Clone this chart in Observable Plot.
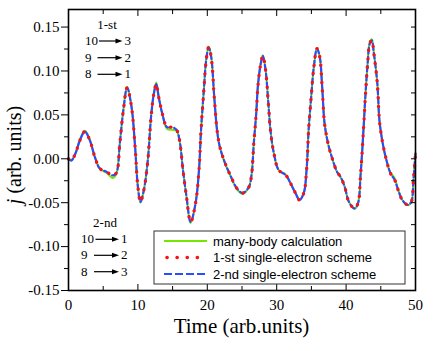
<!DOCTYPE html>
<html>
<head>
<meta charset="utf-8">
<script src="https://cdn.jsdelivr.net/npm/d3@7"></script>
<script src="https://cdn.jsdelivr.net/npm/@observablehq/plot@0.6"></script>
<style>
  html, body { margin: 0; padding: 0; background: #fff; }
  #chart { width: 436px; height: 351px; }
</style>
</head>
<body>
<div id="chart"></div>
<script>
// ---- data ----
const time = [0, 0.4, 1.0, 1.6, 2.35, 3.07, 3.8, 4.5, 5.5, 6.4, 6.9, 7.4, 7.9, 8.45, 9.08, 9.56, 10.0, 10.37, 10.85, 11.43,
  11.9, 12.3, 12.64, 13.0, 13.5, 14.2, 14.9, 15.56, 16.0, 16.5, 17.0, 17.6, 18.3, 18.8, 19.1, 19.5, 19.84, 20.2, 20.56, 21.0,
  21.4, 21.75, 22.4, 23.3, 24.3, 25.1, 26.0, 26.4, 26.7, 27.05, 27.3, 27.7, 28.0, 28.4, 28.8, 29.1, 29.6, 30.3, 31.3, 32.0,
  32.7, 33.3, 33.9, 34.3, 34.6, 34.97, 35.35, 35.8, 36.2, 36.55, 36.9, 37.4, 38.0, 38.7, 39.2, 39.8, 40.4, 41.2, 41.7, 42.1,
  42.5, 42.8, 43.1, 43.4, 43.7, 44.0, 44.5, 44.8, 45.2, 45.7, 46.4, 47.0, 47.5, 48.1, 48.9, 49.4, 49.7, 50.0];
const manyBody = [0, -0.002, 0.006, 0.021, 0.032, 0.022, 0.002, -0.011, -0.016, -0.022, -0.017, 0.018, 0.056, 0.082, 0.060, 0.018, -0.032, -0.050, -0.036, -0.001,
  0.049, 0.075, 0.087, 0.071, 0.051, 0.034, 0.033, 0.032, 0.021, -0.013, -0.043, -0.073, -0.051, -0.013, 0.033, 0.078, 0.113, 0.128, 0.117, 0.071,
  0.033, 0.015, -0.002, -0.019, -0.035, -0.040, -0.032, -0.016, 0.018, 0.052, 0.084, 0.109, 0.118, 0.101, 0.063, 0.033, 0.006, -0.013, -0.018, -0.028,
  -0.039, -0.046, -0.039, -0.013, 0.033, 0.071, 0.105, 0.126, 0.117, 0.082, 0.040, 0.017, 0.000, -0.015, -0.021, -0.032, -0.049, -0.057, -0.051, -0.017,
  0.033, 0.075, 0.109, 0.132, 0.136, 0.121, 0.086, 0.044, 0.021, 0.002, -0.016, -0.022, -0.035, -0.047, -0.053, -0.049, -0.024, 0.006];
const scheme1 = [0, -0.002, 0.006, 0.020, 0.031, 0.021, 0.002, -0.011, -0.015, -0.019, -0.016, 0.018, 0.055, 0.081, 0.059, 0.0175, -0.032, -0.049, -0.036, -0.0015,
  0.048, 0.074, 0.085, 0.070, 0.052, 0.036, 0.036, 0.033, 0.021, -0.013, -0.043, -0.072, -0.051, -0.013, 0.033, 0.078, 0.112, 0.127, 0.116, 0.0705,
  0.033, 0.0155, -0.0015, -0.0185, -0.034, -0.039, -0.032, -0.0166, 0.0175, 0.0516, 0.0837, 0.108, 0.117, 0.1008, 0.063, 0.0326, 0.006, -0.013, -0.0185, -0.028,
  -0.039, -0.047, -0.039, -0.013, 0.0326, 0.0705, 0.1045, 0.1255, 0.116, 0.082, 0.040, 0.0175, 0.0005, -0.015, -0.0205, -0.032, -0.049, -0.0565, -0.051, -0.0166,
  0.0326, 0.0743, 0.108, 0.131, 0.135, 0.120, 0.0857, 0.044, 0.021, 0.002, -0.0166, -0.024, -0.0356, -0.047, -0.0526, -0.049, -0.024, 0.006];
const scheme2 = [0, -0.002, 0.006, 0.020, 0.031, 0.021, 0.002, -0.011, -0.015, -0.019, -0.016, 0.018, 0.055, 0.081, 0.059, 0.0175, -0.032, -0.049, -0.036, -0.0015,
  0.048, 0.074, 0.085, 0.070, 0.052, 0.036, 0.036, 0.033, 0.021, -0.013, -0.043, -0.072, -0.051, -0.013, 0.033, 0.078, 0.112, 0.127, 0.116, 0.0705,
  0.033, 0.0155, -0.0015, -0.0185, -0.034, -0.039, -0.032, -0.0166, 0.0175, 0.0516, 0.0837, 0.108, 0.117, 0.1008, 0.063, 0.0326, 0.006, -0.013, -0.0185, -0.028,
  -0.039, -0.047, -0.039, -0.013, 0.0326, 0.0705, 0.1045, 0.1255, 0.116, 0.082, 0.040, 0.0175, 0.0005, -0.015, -0.0205, -0.032, -0.049, -0.0565, -0.051, -0.0166,
  0.0326, 0.0743, 0.108, 0.131, 0.135, 0.120, 0.0857, 0.044, 0.021, 0.002, -0.0166, -0.024, -0.0356, -0.047, -0.0526, -0.049, -0.024, 0.006];

const seriesNames = ["many-body calculation", "1-st single-electron scheme", "2-nd single-electron scheme"];
const xMajor = [0, 10, 20, 30, 40, 50];
const xMinor = [5, 15, 25, 35, 45];
const yMajor = [-0.15, -0.10, -0.05, 0.00, 0.05, 0.10, 0.15];
const yMinor = [-0.125, -0.075, -0.025, 0.025, 0.075, 0.125];
const firstLabel = "1-st";
const secondLabel = "2-nd";
const firstMap = [["10", "3"], ["9", "2"], ["8", "1"]];
const secondMap = [["10", "1"], ["9", "2"], ["8", "3"]];

// ---- styles ----
const GREEN = "#74e600", RED = "#ff1010", BLUE = "#2a4dff";
const serif = "'Liberation Serif', 'DejaVu Serif', serif";
const sans = "'Liberation Sans', Arial, sans-serif";

const mk = (arr) => time.map((t, i) => ({t, j: arr[i]}));
const dMany = mk(manyBody), d1 = mk(scheme1), d2 = mk(scheme2);
const fmt = (d) => d3.format(".2f")(d).replace("\u2212", "-");

const plot = Plot.plot({
  width: 436,
  height: 351,
  marginLeft: 68,
  marginRight: 21,
  marginTop: 9,
  marginBottom: 61,
  style: {fontFamily: serif, fontSize: "15px", background: "#fff", color: "#000"},
  x: {domain: [0, 50]},
  y: {domain: [-0.15, 0.17]},
  marks: [
    Plot.line(dMany, {x: "t", y: "j", stroke: GREEN, strokeWidth: 2, curve: "catmull-rom"}),
    Plot.line(d2, {x: "t", y: "j", stroke: BLUE, strokeWidth: 2.2, strokeDasharray: "6 3", curve: "catmull-rom"}),
    Plot.line(d1, {x: "t", y: "j", stroke: RED, strokeWidth: 3.4, strokeDasharray: "0.1 8.5", strokeLinecap: "round", curve: "catmull-rom"}),
    // left axis (outward ticks)
    Plot.axisY({anchor: "left", ticks: yMajor, tickSize: 7, tickPadding: 2, tickFormat: fmt, label: null, fontSize: 15}),
    Plot.axisY({anchor: "left", ticks: yMinor, tickSize: 4, text: null, label: null}),
    // right axis (inward ticks)
    Plot.axisY({anchor: "right", ticks: yMajor.concat(yMinor), tickSize: -5, text: null, label: null}),
    // top axis (inward)
    Plot.axisX({anchor: "top", ticks: xMajor, tickSize: -6, text: null, label: null}),
    Plot.axisX({anchor: "top", ticks: xMinor, tickSize: -4, text: null, label: null}),
    // bottom axis (inward ticks, labels below)
    Plot.axisX({anchor: "bottom", ticks: xMajor, tickSize: -6, text: null, label: null}),
    Plot.axisX({anchor: "bottom", ticks: xMinor, tickSize: -4, text: null, label: null}),
    Plot.axisX({anchor: "bottom", ticks: xMajor, tickSize: 0, tickPadding: 9, label: null, fontSize: 15}),
    Plot.frame({stroke: "#000", strokeWidth: 1.6})
  ]
});

document.getElementById("chart").appendChild(plot);

// ---- decorations (titles, legend, annotations) ----
const svg = d3.select(plot);

// x title
svg.append("text")
  .attr("x", 241.5).attr("y", 333)
  .attr("text-anchor", "middle")
  .attr("font-family", serif).attr("font-size", 21)
  .attr("fill", "#000")
  .text("Time (arb.units)");

// y title
const yt = svg.append("text")
  .attr("transform", "translate(21,155) rotate(-90)")
  .attr("text-anchor", "middle")
  .attr("font-family", serif).attr("font-size", 20)
  .attr("fill", "#000");
yt.append("tspan").attr("font-style", "italic").text("j");
yt.append("tspan").text(" (arb. units)");

// legend
const lg = svg.append("g").attr("text-anchor", "start");
lg.append("rect").attr("x", 154).attr("y", 231).attr("width", 251).attr("height", 53)
  .attr("fill", "#fff").attr("stroke", "#333").attr("stroke-width", 1);
const legendStyles = [
  {stroke: GREEN, width: 2, dash: null, cap: "butt"},
  {stroke: RED, width: 3.6, dash: "0.1 10", cap: "round"},
  {stroke: BLUE, width: 2, dash: "8 3", cap: "butt"}
];
const legendY = [241, 257.5, 274];
seriesNames.forEach((name, i) => {
  const s = legendStyles[i];
  const l = lg.append("line").attr("x1", i === 1 ? 167 : 164).attr("x2", 207)
    .attr("y1", legendY[i]).attr("y2", legendY[i])
    .style("stroke", s.stroke).style("stroke-width", s.width).style("stroke-linecap", s.cap);
  if (s.dash) l.style("stroke-dasharray", s.dash);
  lg.append("text").attr("x", 213).attr("y", legendY[i] + 4.5)
    .attr("text-anchor", "start")
    .attr("font-family", sans).attr("font-size", 13).attr("fill", "#000")
    .text(name);
});

// annotations
function block(title, titleX, titleY, rows, leftX, rowY, arrowStarts, arrowTip, rightX) {
  const g = svg.append("g").attr("font-family", serif).attr("font-size", 13)
    .attr("fill", "#000").attr("text-anchor", "start");
  g.append("text").attr("x", titleX).attr("y", titleY).attr("text-anchor", "middle").text(title);
  rows.forEach((r, i) => {
    const y = rowY[i];
    g.append("text").attr("x", leftX).attr("y", y).attr("text-anchor", "start").text(r[0]);
    const ay = y - 4;
    g.append("line").attr("x1", arrowStarts[i]).attr("x2", arrowTip - 5)
      .attr("y1", ay).attr("y2", ay).style("stroke", "#000").style("stroke-width", 1.2);
    g.append("path")
      .attr("d", `M${arrowTip},${ay} L${arrowTip - 7},${ay - 2.5} L${arrowTip - 7},${ay + 2.5} Z`)
      .style("fill", "#000").style("stroke", "none");
    g.append("text").attr("x", rightX).attr("y", y).attr("text-anchor", "start").text(r[1]);
  });
}
block(firstLabel, 107, 28.5, firstMap, 85, [45, 61.7, 78.3], [99, 97.5, 97.5], 122.5, 124.5);
block(secondLabel, 105, 226.7, secondMap, 81, [243.3, 259.3, 275.7], [95.5, 94, 94], 119, 121);
</script>
</body>
</html>
